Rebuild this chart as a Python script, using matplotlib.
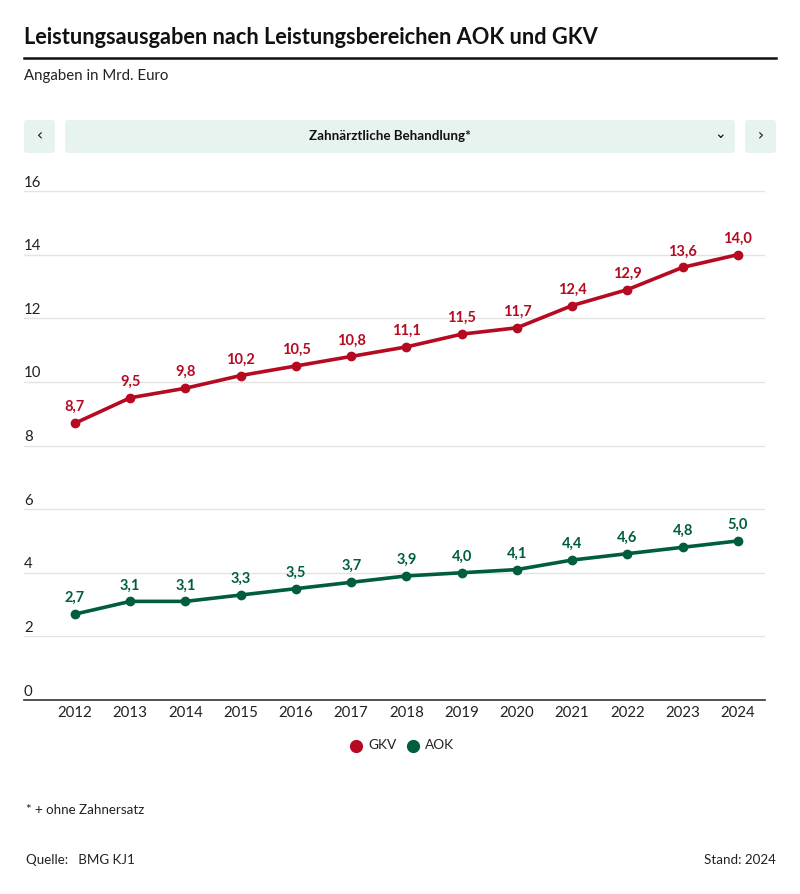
import matplotlib
matplotlib.use("Agg")
import matplotlib.pyplot as plt
from matplotlib.patches import FancyBboxPatch
from matplotlib.lines import Line2D

years = [2012, 2013, 2014, 2015, 2016, 2017, 2018, 2019, 2020, 2021, 2022, 2023, 2024]
gkv = [8.7, 9.5, 9.8, 10.2, 10.5, 10.8, 11.1, 11.5, 11.7, 12.4, 12.9, 13.6, 14.0]
aok = [2.7, 3.1, 3.1, 3.3, 3.5, 3.7, 3.9, 4.0, 4.1, 4.4, 4.6, 4.8, 5.0]
yticks = [0, 2, 4, 6, 8, 10, 12, 14, 16]

RED = "#b50a21"
GREEN = "#005e3c"
FONT = "Lato"

W, H = 800, 894
fig = plt.figure(figsize=(W / 100, H / 100), dpi=100)

def fx(px):
    return px / W

def fy(py):
    return 1 - py / H

# Title
fig.text(fx(24), fy(38), "Leistungsausgaben nach Leistungsbereichen AOK und GKV",
         fontsize=15.7, fontweight="bold", family=FONT, color="#111111", va="center", ha="left")
fig.add_artist(Line2D([fx(24), fx(776)], [fy(58), fy(58)], color="#111111", lw=1.8))
fig.text(fx(24), fy(76), "Angaben in Mrd. Euro", fontsize=10.8, family=FONT, color="#222222",
         va="center", ha="left")

# Dropdown bar
box_col = "#e7f3ef"
for x0, x1 in [(24, 55), (65, 735), (745, 776)]:
    fig.add_artist(FancyBboxPatch((fx(x0), fy(153)), fx(x1 - x0), (153 - 120) / H,
                                  boxstyle="round,pad=0,rounding_size=0.004",
                                  transform=fig.transFigure, facecolor=box_col, edgecolor="none"))
fig.text(fx(390), fy(136), "Zahnärztliche Behandlung*", fontsize=9.6, fontweight="bold", family=FONT,
         color="#111111", ha="center", va="center")
fig.text(fx(39.5), fy(136), "‹", fontsize=11, family="DejaVu Sans", color="#111111", ha="center", va="center")
fig.text(fx(760.5), fy(136), "›", fontsize=11, family="DejaVu Sans", color="#111111", ha="center", va="center")
fig.text(fx(720), fy(134), "⌄", fontsize=10, family="DejaVu Sans", color="#111111", ha="center", va="center")

# Axes
ax = fig.add_axes([fx(24), fy(700), fx(765 - 24), (700 - 191) / H])
ax.set_xlim(2011.077, 2024.49)
ax.set_ylim(0, 16)
for s in ["top", "right", "left"]:
    ax.spines[s].set_visible(False)
ax.spines["bottom"].set_color("#333333")
ax.spines["bottom"].set_linewidth(1.2)
ax.set_yticks(yticks)
ax.yaxis.grid(True, color="#e3e3e3", lw=1)
ax.set_axisbelow(True)
ax.tick_params(axis="y", length=0, labelleft=False)
for t in yticks:
    ax.annotate(str(t), xy=(0, t), xycoords=("axes fraction", "data"), xytext=(0, 1),
                textcoords="offset points", ha="left", va="bottom", fontsize=10.8,
                family=FONT, color="#222222")
ax.set_xticks(years)
ax.set_xticklabels([str(y) for y in years], fontsize=10.8, family=FONT, color="#222222")
ax.tick_params(axis="x", length=0, pad=4)

for vals, col in [(gkv, RED), (aok, GREEN)]:
    ax.plot(years, vals, color=col, lw=2.6, marker="o", markersize=6, zorder=3, clip_on=False)
    for x, v in zip(years, vals):
        ax.annotate(f"{v:.1f}".replace(".", ","), xy=(x, v), xytext=(0, 6.5), textcoords="offset points",
                    ha="center", va="bottom", fontsize=10.5, fontweight="bold", family=FONT, color=col)

# Legend
for px, col, lab in [(356, RED, "GKV"), (413, GREEN, "AOK")]:
    fig.add_artist(Line2D([fx(px)], [fy(746)], marker="o", markersize=8.5, color=col, lw=0))
    fig.text(fx(px + 12), fy(745), lab, fontsize=9.8, family=FONT, color="#222222", ha="left", va="center")

# Footer
fig.text(fx(26), fy(810), "* + ohne Zahnersatz", fontsize=9.6, family=FONT, color="#222222", ha="left", va="center")
fig.text(fx(26), fy(860), "Quelle:   BMG KJ1", fontsize=9.6, family=FONT, color="#222222", ha="left", va="center")
fig.text(fx(776), fy(860), "Stand: 2024", fontsize=9.6, family=FONT, color="#222222", ha="right", va="center")

fig.savefig("out.png", dpi=100, facecolor="white")
